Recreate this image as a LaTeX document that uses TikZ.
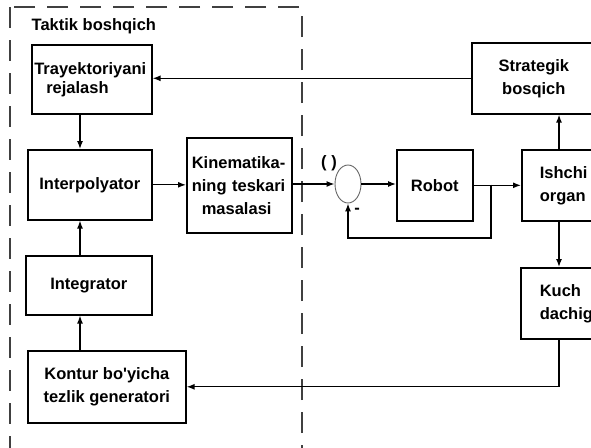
\documentclass[tikz,border=0pt]{standalone}
\usepackage{fontspec}
\setmainfont{Liberation Sans}
\usetikzlibrary{arrows.meta,shapes.geometric}

\begin{document}
\begin{tikzpicture}[x=1pt,y=-1pt,line width=1.3pt,
  every node/.style={font=\fontsize{16.5}{23}\selectfont\bfseries},
  block/.style={draw,line width=1.6pt,anchor=north west,inner ysep=0pt,align=center},
  sumnode/.style={ellipse,draw=black!60,line width=0.9pt,minimum width=26pt,minimum height=38pt,inner sep=0pt},
  arr/.style={-{Latex[length=8pt,width=6pt]}},
  frame/.style={draw=black!75,line width=1.4pt,dash pattern=on 21pt off 12pt}]
 \useasboundingbox (0,0) rectangle (591,447);
 \clip (0,0) rectangle (591,447);
 \draw[frame] (10,7) rectangle (302,470);
 \node[anchor=base west,inner sep=0pt] (title) at (31,30) {Taktik boshqich};
 \node[block,minimum width=120pt,minimum height=69pt,text width=115pt,inner xsep=2.5pt,align=left,
   font=\fontsize{16.5}{19}\selectfont\bfseries] (traj) at (31,44) {Trayektoriyani\\\hspace*{12pt}rejalash};
 \node[block,minimum width=124pt,minimum height=70pt] (interp) at (27,149) {Interpolyator};
 \node[block,minimum width=105pt,minimum height=95pt,text width=95pt,inner xsep=5pt,align=left]
   (kin) at (186,137) {Kinematika-\\ning teskari\\\hspace*{10pt}masalasi};
 \node[block,minimum width=126pt,minimum height=59pt] (integ) at (25,255) {Integrator};
 \node[block,minimum width=158pt,minimum height=72pt] (kontur) at (27,350) {Kontur bo\textquotesingle yicha\\tezlik generatori};
 \node[sumnode] (sum) at (348,184) {};
 \node (inp) at (329,163) {( )};
 \node (minus) at (357,211) {-};
 \node[block,minimum width=76pt,minimum height=71pt] (robot) at (396,149) {Robot};
 \node[block,minimum height=71pt,text width=60pt,inner xsep=18pt,align=left] (ishchi) at (521,149) {Ishchi\\organ};
 \node[block,minimum height=71pt,text width=80pt,inner xsep=22pt] (strat) at (471,42) {Strategik\\bosqich};
 \node[block,minimum height=71pt,text width=60pt,inner xsep=19pt,align=left] (kuch) at (520,267) {Kuch\\dachigi};
 \coordinate (lcol) at (80,0);
 \coordinate (rcol) at (559,0);
 \coordinate (br) at (491,184.5);
 \coordinate (fb) at (491,238);
 \draw[arr] (strat.west) -- (strat.west -| traj.east);
 \draw[arr] (traj.south -| lcol) -- (interp.north -| lcol);
 \draw[arr] (integ.north -| lcol) -- (interp.south -| lcol);
 \draw[arr] (kontur.north -| lcol) -- (integ.south -| lcol);
 \draw[arr] (interp.east) -- (interp.east -| kin.west);
 \draw[arr] (sum.west -| kin.east) -- (sum.west);
 \draw[arr] (sum.east) -- (sum.east -| robot.west);
 \draw[arr] (robot.east) -- (robot.east -| ishchi.west);
 \draw[arr] (br) -- (fb) -| (sum.south);
 \draw[arr] (ishchi.north -| rcol) -- (strat.south -| rcol);
 \draw[arr] (ishchi.south -| rcol) -- (kuch.north -| rcol);
 \draw[arr] (kuch.south -| rcol) |- (kontur.east);
\end{tikzpicture}
\end{document}
